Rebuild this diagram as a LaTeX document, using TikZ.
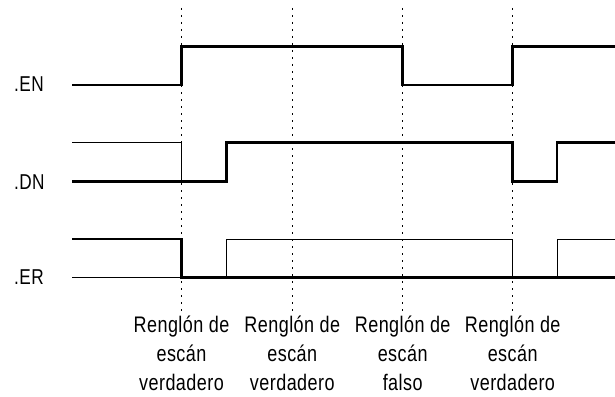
\documentclass[tikz,border=0pt]{standalone}
\usepackage{fontspec}
\setmainfont{Liberation Sans}[FakeStretch=0.8,LetterSpace=2]
\begin{document}
\begin{tikzpicture}[x=1pt,y=-1pt,
  thickline/.style={line width=2.6pt, line join=miter, line cap=butt},
  thinline/.style={line width=0.9pt, line join=miter},
  guide/.style={line width=1pt, dash pattern=on 1.8pt off 5.2pt},
  lbl/.style={font=\fontsize{21.5}{29}\selectfont, inner sep=0pt, anchor=base west},
  scan/.style={font=\fontsize{22.5}{29}\selectfont, align=center, anchor=base, inner sep=0pt}]
\useasboundingbox (0,0) rectangle (615,396);
% time marks
\coordinate (t1) at (181.5,0);
\coordinate (t2) at (292.3,0);
\coordinate (t3) at (402.7,0);
\coordinate (t4) at (512.7,0);
% dotted guides
\foreach \t in {t1,t2,t3,t4}
  \draw[guide] (\t |- 0,8) -- (\t |- 0,314);
% .EN
\draw[thickline] (72,85) -- (181.5,85) -- (181.5,46.5) -- (402.7,46.5) -- (402.7,85)
  -- (512.7,85) -- (512.7,46.5) -- (616,46.5);
% .DN
\draw[thinline] (72,142.7) -- (181.5,142.7) -- (181.5,181.7);
\draw[thickline] (72,181.7) -- (226.5,181.7) -- (226.5,142.7) -- (512.7,142.7) -- (512.7,181.7)
  -- (557,181.7) -- (557,142.7) -- (616,142.7);
% .ER
\draw[thinline] (72,277.3) -- (181.5,277.3);
\draw[thinline] (226.5,277.3) -- (226.5,239) -- (512.7,239) -- (512.7,277.3);
\draw[thinline] (557,277.3) -- (557,239) -- (616,239);
\draw[thickline] (72,239) -- (181.5,239) -- (181.5,277.3) -- (616,277.3);
% signal names
\node[lbl] (en) at (14,91.5) {.EN};
\node[lbl] (dn) at (14,189) {.DN};
\node[lbl] (er) at (14,284.8) {.ER};
% scan labels
\node[scan] (s1) at (181.5,390.5) {Renglón de\\escán\\verdadero};
\node[scan] (s2) at (292.3,390.5) {Renglón de\\escán\\verdadero};
\node[scan] (s3) at (402.7,390.5) {Renglón de\\escán\\falso};
\node[scan] (s4) at (512.7,390.5) {Renglón de\\escán\\verdadero};
\end{tikzpicture}
\end{document}
